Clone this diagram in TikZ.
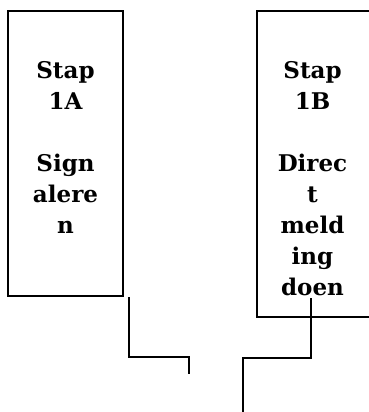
\documentclass[tikz,border=0pt]{standalone}
\usepackage{fontspec}
\setmainfont{DejaVu Serif}
\usepackage{tikz}

\tikzset{
    stapbox/.style={draw, line width=1.2pt, inner sep=0pt},
    staptext/.style={anchor=north, align=center, inner sep=0pt,
        font=\fontsize{23}{31}\selectfont\bfseries},
    link/.style={line width=1.2pt}
}

\begin{document}
\begin{tikzpicture}[x=1pt, y=-1pt]
                % Page frame
                \useasboundingbox (0,0) rectangle (368,412);
                
                % Step boxes
                \node[stapbox, minimum width=115pt, minimum height=285pt] (boxA) at (65.5,153.5) {};
                \node[stapbox, minimum width=114pt, minimum height=306pt] (boxB) at (314,164) {};
                
                % Box texts
                \node[staptext] (txtA) at (65.5,61) {Stap\\1A\\[31pt]Sign\\alere\\n};
                \node[staptext] (txtB) at (312.5,61) {Stap\\1B\\[31pt]Direc\\t\\meld\\ing\\doen};
                
                % Loose connector ends
                \coordinate (a1) at (129,297);
                \coordinate (a2) at (189,374);
                \coordinate (b1) at (311,298);
                \coordinate (b2) at (243,412);
                
                % Connectors
                \draw[link] (a1) -- ++(0,60) -| (a2);
                \draw[link] (b1) -- ++(0,60) -| (b2);
\end{tikzpicture}
\end{document}
